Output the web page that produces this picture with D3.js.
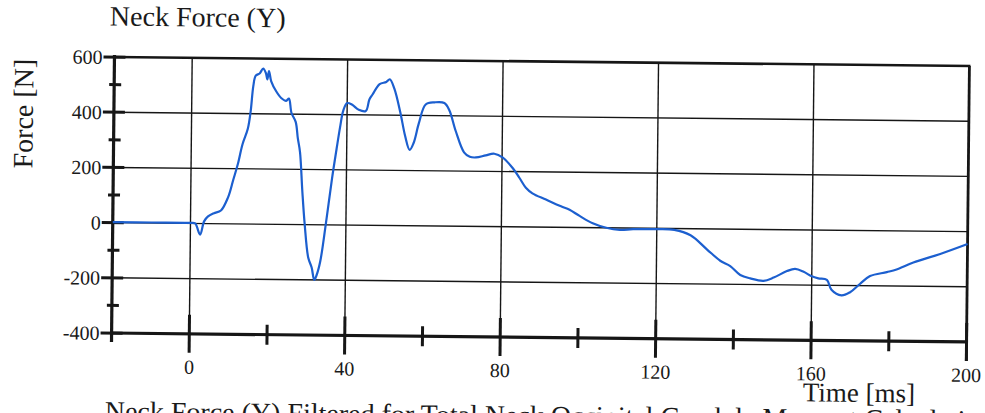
<!DOCTYPE html>
<html>
<head>
<meta charset="utf-8">
<script src="https://cdn.jsdelivr.net/npm/d3@7"></script>
<style>
  html, body { margin: 0; padding: 0; background: #fff; }
  svg { display: block; }
  text { font-family: "Liberation Serif", "Times New Roman", serif; fill: #1a1a1a; }
</style>
</head>
<body>
<svg id="chart" width="985" height="413"></svg>
<script>
// ---- data ----
const chartTitle = "Neck Force (Y)";
const yAxisTitle = "Force [N]";
const xAxisTitle = "Time [ms]";
const footerText = "Neck Force (Y) Filtered for Total Neck Occipital Condyle Moment Calculation";

const timeMs = [-20, -10, 0, 1.2, 2.5, 3.5, 4.5, 6, 7.8, 9.6, 10.9, 12.0, 13.2, 14.5, 15.2, 15.8, 16.4, 17.4, 18.3, 19, 19.4, 19.8, 20.4, 21.7, 23, 24.3, 25, 25.7, 26.8, 27.4, 28, 28.7, 29.4, 30.4, 31.3, 32, 32.6, 33.5, 34.8, 36.3, 37.4, 38.3, 39, 40, 41.3, 43, 44.8, 45.7, 46.5, 48.3, 50, 50.9, 52.1, 53.7, 55, 56.2, 57.2, 58.5, 60.2, 62.5, 65, 66.3, 68, 70.2, 71.7, 73.3, 75.8, 78, 80.2, 82.8, 84.5, 86.2, 87.9, 91.4, 95.3, 97.5, 100.1, 103.5, 107, 110.5, 113.9, 120, 124.5, 128.7, 133, 136.4, 139, 141.6, 144.2, 147.6, 150.2, 153.6, 155.7, 157.9, 160, 161.7, 163.9, 165.1, 167.7, 169.9, 172.4, 175, 179.3, 181.8, 186.1, 193, 200];
const forceN = [2, 2, 2, 0, -40, 8, 26, 38, 48, 96, 160, 215, 290, 345, 410, 500, 538, 546, 564, 548, 525, 555, 518, 482, 458, 448, 456, 404, 372, 312, 262, 120, 0, -120, -155, -200, -182, -132, 0, 168, 276, 360, 414, 442, 436, 418, 414, 456, 474, 512, 520, 530, 496, 410, 325, 275, 300, 372, 440, 448, 446, 420, 345, 268, 252, 250, 258, 264, 250, 212, 178, 142, 122, 100, 76, 64, 42, 16, 0, -7, -4, -3, -5, -24, -75, -115, -134, -166, -178, -186, -174, -150, -142, -152, -168, -175, -180, -216, -236, -224, -194, -165, -150, -140, -114, -82, -45];

const xMajorTicks = [0, 40, 80, 120, 160, 200];
const xMinorTicks = [20, 60, 100, 140, 180];
const yMajorTicks = [-400, -200, 0, 200, 400, 600];
const yMinorTicks = [-300, -100, 100, 300, 500];
const xGrid = [0, 40, 80, 120, 160];
const yGrid = [-200, 0, 200, 400];

// ---- drawing ----
const svg = d3.select("#chart");
const root = svg.append("g").attr("transform", "rotate(0.6 540 200)");

const x = d3.scaleLinear().domain([-20, 200]).range([113, 968]);
const y = d3.scaleLinear().domain([-400, 600]).range([337.5, 61.5]);
const ink = "#161616";

// grid
root.append("g").selectAll("line").data(xGrid).join("line")
  .attr("x1", d => x(d)).attr("x2", d => x(d))
  .attr("y1", y(600)).attr("y2", y(-400))
  .attr("stroke", ink).attr("stroke-width", 1.4);
root.append("g").selectAll("line").data(yGrid).join("line")
  .attr("x1", x(-20)).attr("x2", x(200))
  .attr("y1", d => y(d)).attr("y2", d => y(d))
  .attr("stroke", ink).attr("stroke-width", 1.4);

// top & right frame
root.append("line").attr("x1", x(-20)).attr("x2", x(200) + 1).attr("y1", y(600)).attr("y2", y(600))
  .attr("stroke", ink).attr("stroke-width", 2.6);
root.append("line").attr("x1", x(200)).attr("x2", x(200)).attr("y1", y(600)).attr("y2", y(-400) + 19)
  .attr("stroke", ink).attr("stroke-width", 2.8);

// axes lines
root.append("line").attr("x1", x(-20)).attr("x2", x(-20)).attr("y1", y(600) - 2).attr("y2", y(-400) + 9)
  .attr("stroke", ink).attr("stroke-width", 3.2);
root.append("line").attr("x1", x(-20)).attr("x2", x(200)).attr("y1", y(-400)).attr("y2", y(-400))
  .attr("stroke", ink).attr("stroke-width", 3.2);

// x ticks
root.append("g").selectAll("line").data(xMajorTicks).join("line")
  .attr("x1", d => x(d)).attr("x2", d => x(d))
  .attr("y1", y(-400) - 19).attr("y2", y(-400) + 19)
  .attr("stroke", ink).attr("stroke-width", 3);
root.append("g").selectAll("line").data(xMinorTicks).join("line")
  .attr("x1", d => x(d)).attr("x2", d => x(d))
  .attr("y1", y(-400) - 10).attr("y2", y(-400) + 10)
  .attr("stroke", ink).attr("stroke-width", 3);

// y ticks
root.append("g").selectAll("line").data(yMajorTicks).join("line")
  .attr("x1", x(-20) - 11).attr("x2", x(-20) + 11)
  .attr("y1", d => y(d)).attr("y2", d => y(d))
  .attr("stroke", ink).attr("stroke-width", 3);
root.append("g").selectAll("line").data(yMinorTicks).join("line")
  .attr("x1", x(-20) - 5).attr("x2", x(-20) + 7)
  .attr("y1", d => y(d)).attr("y2", d => y(d))
  .attr("stroke", ink).attr("stroke-width", 3);

// tick labels
root.append("g").selectAll("text").data(yMajorTicks).join("text")
  .attr("x", x(-20) - 12).attr("y", d => y(d) + 7)
  .attr("text-anchor", "end").attr("font-size", 20)
  .text(d => d);
root.append("g").selectAll("text").data(xMajorTicks).join("text")
  .attr("x", d => x(d)).attr("y", 377.5)
  .attr("text-anchor", "middle").attr("font-size", 20)
  .text(d => d);

// titles
root.append("text").attr("x", 108).attr("y", 30).attr("font-size", 28).text(chartTitle);
root.append("text").attr("transform", "translate(32,119) rotate(-90)")
  .attr("text-anchor", "middle").attr("font-size", 28).text(yAxisTitle);
root.append("text").attr("x", 861).attr("y", 398.5).attr("text-anchor", "middle")
  .attr("font-size", 27).text(xAxisTitle);
root.append("text").attr("x", 107).attr("y", 425).attr("font-size", 28).text(footerText);

// data line
const line = d3.line().x((d, i) => x(timeMs[i])).y(d => y(d)).curve(d3.curveCatmullRom.alpha(0.5));
root.append("path").datum(forceN)
  .attr("d", line)
  .attr("fill", "none").attr("stroke", "#1c5fcf").attr("stroke-width", 2.2)
  .attr("stroke-linejoin", "round");
</script>
</body>
</html>
